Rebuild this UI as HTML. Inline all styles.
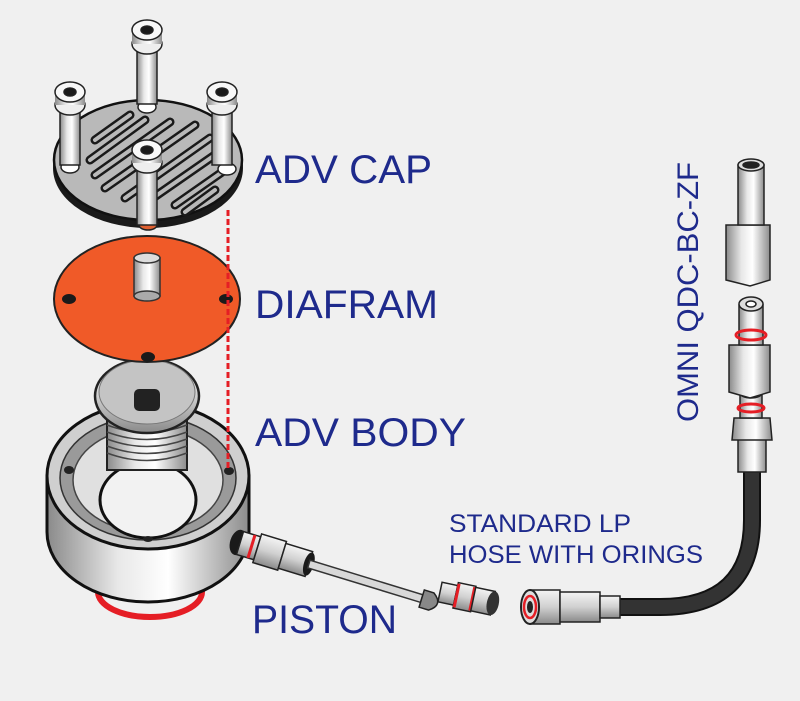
<!DOCTYPE html>
<html><head><meta charset="utf-8"><style>
html,body{margin:0;padding:0;background:#f0f0f0}
svg{display:block}
text{font-family:"Liberation Sans",sans-serif;fill:#1e2a8c}
</style></head><body>
<svg width="800" height="701" viewBox="0 0 800 701" xmlns="http://www.w3.org/2000/svg">
<defs>
<linearGradient id="metal" x1="0" x2="1" y1="0" y2="0">
<stop offset="0" stop-color="#8a8a8a"/><stop offset="0.35" stop-color="#e8e8e8"/><stop offset="0.6" stop-color="#ffffff"/><stop offset="1" stop-color="#8c8c8c"/>
</linearGradient>
<linearGradient id="metalV" x1="0" x2="0" y1="0" y2="1">
<stop offset="0" stop-color="#f4f4f4"/><stop offset="0.5" stop-color="#d0d0d0"/><stop offset="1" stop-color="#8a8a8a"/>
</linearGradient>
</defs>
<rect width="800" height="701" fill="#f0f0f0"/>

<ellipse cx="150" cy="592" rx="52" ry="25" fill="none" stroke="#e51e25" stroke-width="6"/>

<path d="M47 476 L47 532 A101 70 0 0 0 249 532 L249 476 Z" fill="url(#metal)" stroke="#111" stroke-width="3"/>
<ellipse cx="148" cy="476" rx="101" ry="73" fill="#cfcfcf" stroke="#111" stroke-width="3"/>
<ellipse cx="148" cy="478" rx="88" ry="62" fill="#9a9a9a" stroke="#333" stroke-width="1.5"/>
<ellipse cx="148" cy="480" rx="75" ry="52" fill="#e0e0e0" stroke="#444" stroke-width="1.5"/>
<ellipse cx="148" cy="500" rx="48" ry="38" fill="#f2f2f2" stroke="#111" stroke-width="3"/>
<ellipse cx="69" cy="470" rx="5" ry="4" fill="#222"/>
<ellipse cx="229" cy="471" rx="5" ry="4" fill="#222"/>
<ellipse cx="148" cy="539" rx="5" ry="3" fill="#222"/>

<rect x="107" y="400" width="80" height="70" fill="url(#metal)" stroke="#222" stroke-width="2"/>
<g stroke="#444" stroke-width="1.5" fill="none">
<path d="M107 425 Q147 440 187 425"/><path d="M107 432 Q147 447 187 432"/><path d="M107 439 Q147 454 187 439"/><path d="M107 446 Q147 461 187 446"/><path d="M107 453 Q147 468 187 453"/>
</g>
<ellipse cx="147" cy="396" rx="52" ry="37" fill="url(#metalV)" stroke="#222" stroke-width="2.5"/>
<ellipse cx="147" cy="392" rx="48" ry="32" fill="#c4c4c4" stroke="#777" stroke-width="1"/>
<rect x="134" y="389" width="26" height="22" rx="5" fill="#222"/>

<ellipse cx="147" cy="299" rx="93" ry="63" fill="#f05a28" stroke="#222" stroke-width="2"/>
<ellipse cx="69" cy="299" rx="7" ry="5" fill="#1a1a1a"/>
<ellipse cx="226" cy="299" rx="7" ry="5" fill="#1a1a1a"/>
<ellipse cx="148" cy="357" rx="7" ry="5" fill="#1a1a1a"/>
<rect x="134" y="258" width="26" height="38" fill="url(#metal)" stroke="#333" stroke-width="1.5"/>
<ellipse cx="147" cy="296" rx="13" ry="5" fill="#aaa" stroke="#333" stroke-width="1.5"/>
<ellipse cx="147" cy="258" rx="13" ry="5" fill="#ddd" stroke="#333" stroke-width="1.5"/>

<line x1="228" y1="210" x2="228" y2="470" stroke="#e51e25" stroke-width="3" stroke-dasharray="6 3"/>

<ellipse cx="148" cy="168" rx="95" ry="60" fill="#1a1a1a"/>
<ellipse cx="148" cy="160" rx="94" ry="60" fill="#b9b9b9" stroke="#111" stroke-width="2.5"/>
<g stroke="#1a1a1a" stroke-width="9" stroke-linecap="round">
<line x1="95" y1="140" x2="130" y2="115"/><line x1="90" y1="160" x2="145" y2="120"/><line x1="95" y1="175" x2="170" y2="122"/>
<line x1="105" y1="188" x2="195" y2="125"/><line x1="125" y1="198" x2="210" y2="138"/><line x1="150" y1="200" x2="222" y2="150"/>
<line x1="175" y1="205" x2="225" y2="170"/><line x1="185" y1="212" x2="215" y2="190"/>
</g>
<g stroke="#b9b9b9" stroke-width="4" stroke-linecap="round">
<line x1="95" y1="140" x2="130" y2="115"/><line x1="90" y1="160" x2="145" y2="120"/><line x1="95" y1="175" x2="170" y2="122"/>
<line x1="105" y1="188" x2="195" y2="125"/><line x1="125" y1="198" x2="210" y2="138"/><line x1="150" y1="200" x2="222" y2="150"/>
<line x1="175" y1="205" x2="225" y2="170"/><line x1="185" y1="212" x2="215" y2="190"/>
</g>
<ellipse cx="147" cy="107" rx="9" ry="6" fill="#fff" stroke="#222" stroke-width="1.5"/>
<ellipse cx="70" cy="167" rx="9" ry="6" fill="#fff" stroke="#222" stroke-width="1.5"/>
<ellipse cx="227" cy="169" rx="9" ry="6" fill="#fff" stroke="#222" stroke-width="1.5"/>
<ellipse cx="148" cy="225" rx="9" ry="5" fill="#e06030" stroke="#222" stroke-width="1.5"/>
<g stroke="#222" stroke-width="1.5">
<rect x="137" y="44" width="20" height="60" fill="url(#metal)"/>
<ellipse cx="147" cy="44" rx="15" ry="10" fill="#eee"/><rect x="132" y="30" width="30" height="14" fill="url(#metal)" stroke="none"/><ellipse cx="147" cy="30" rx="15" ry="10" fill="#f8f8f8"/><ellipse cx="147" cy="30" rx="6" ry="4" fill="#1a1a1a"/>
<rect x="60" y="105" width="20" height="60" fill="url(#metal)"/>
<ellipse cx="70" cy="105" rx="15" ry="10" fill="#eee"/><rect x="55" y="92" width="30" height="13" fill="url(#metal)" stroke="none"/><ellipse cx="70" cy="92" rx="15" ry="10" fill="#f8f8f8"/><ellipse cx="70" cy="92" rx="6" ry="4" fill="#1a1a1a"/>
<rect x="212" y="105" width="20" height="60" fill="url(#metal)"/>
<ellipse cx="222" cy="105" rx="15" ry="10" fill="#eee"/><rect x="207" y="92" width="30" height="13" fill="url(#metal)" stroke="none"/><ellipse cx="222" cy="92" rx="15" ry="10" fill="#f8f8f8"/><ellipse cx="222" cy="92" rx="6" ry="4" fill="#1a1a1a"/>
<rect x="137" y="163" width="20" height="62" fill="url(#metal)"/>
<ellipse cx="147" cy="163" rx="15" ry="10" fill="#eee"/><rect x="132" y="150" width="30" height="13" fill="url(#metal)" stroke="none"/><ellipse cx="147" cy="150" rx="15" ry="10" fill="#f8f8f8"/><ellipse cx="147" cy="150" rx="6" ry="4" fill="#1a1a1a"/>
</g>

<g transform="translate(240,543) rotate(17)">
<ellipse cx="-2" cy="0" rx="8" ry="13" fill="#1a1a1a"/>
<rect x="0" y="-12" width="18" height="24" fill="url(#metalV)" stroke="#222" stroke-width="1.5"/>
<line x1="12" y1="-12" x2="12" y2="12" stroke="#e51e25" stroke-width="3"/>
<rect x="18" y="-15" width="26" height="30" fill="url(#metalV)" stroke="#222" stroke-width="1.5"/>
<rect x="44" y="-13" width="28" height="26" fill="url(#metalV)" stroke="#222" stroke-width="1.5"/>
<ellipse cx="72" cy="0" rx="5" ry="12" fill="#1a1a1a"/>
<rect x="72" y="-4" width="118" height="8" fill="#d8d8d8" stroke="#333" stroke-width="1.5"/>
<path d="M190 -9 L200 -9 Q213 0 200 9 L190 9 Z" fill="#888" stroke="#222" stroke-width="1.5"/>
</g>
<g transform="translate(440,592) rotate(12)">
<rect x="0" y="-10" width="16" height="20" fill="url(#metalV)" stroke="#222" stroke-width="1.5"/>
<rect x="16" y="-13" width="18" height="26" fill="url(#metalV)" stroke="#222" stroke-width="1.5"/>
<line x1="17" y1="-12" x2="17" y2="12" stroke="#e51e25" stroke-width="3"/>
<line x1="33" y1="-12" x2="33" y2="12" stroke="#e51e25" stroke-width="3"/>
<rect x="34" y="-12" width="20" height="24" fill="url(#metalV)" stroke="#222" stroke-width="1.5"/>
<ellipse cx="54" cy="0" rx="6" ry="12" fill="#333"/>
</g>

<path d="M600 607 L660 607 Q752 607 752 520 L752 470" fill="none" stroke="#111" stroke-width="18"/>
<path d="M600 607 L660 607 Q752 607 752 520 L752 470" fill="none" stroke="#333" stroke-width="14"/>
<rect x="530" y="590" width="30" height="34" fill="url(#metalV)" stroke="#222" stroke-width="1.5"/>
<rect x="560" y="592" width="40" height="30" fill="url(#metalV)" stroke="#222" stroke-width="1.5"/>
<rect x="600" y="596" width="20" height="22" fill="url(#metalV)" stroke="#222" stroke-width="1.5"/>
<ellipse cx="530" cy="607" rx="9" ry="17" fill="#ddd" stroke="#222" stroke-width="2"/>
<ellipse cx="530" cy="607" rx="6" ry="11" fill="none" stroke="#e51e25" stroke-width="2.5"/>
<ellipse cx="530" cy="607" rx="3" ry="6" fill="#222"/>

<g stroke="#222" stroke-width="1.5">
<rect x="738" y="432" width="28" height="40" fill="url(#metal)"/>
<path d="M734 418 L770 418 L772 440 L732 440 Z" fill="url(#metal)"/>
<rect x="740" y="393" width="22" height="25" fill="url(#metal)"/>
<ellipse cx="751" cy="393" rx="11" ry="5" fill="#ddd"/><ellipse cx="751" cy="393" rx="5" ry="3" fill="#222"/>
<ellipse cx="751" cy="408" rx="13" ry="4" fill="none" stroke="#e51e25" stroke-width="3"/>
<path d="M729 345 L770 345 L770 392 L750 398 L729 392 Z" fill="url(#metal)"/>
<rect x="739" y="305" width="24" height="40" fill="url(#metal)"/>
<ellipse cx="751" cy="304" rx="12" ry="7" fill="#ddd"/><ellipse cx="751" cy="304" rx="5" ry="3" fill="#fff"/>
<ellipse cx="751" cy="335" rx="15" ry="5" fill="none" stroke="#e51e25" stroke-width="3"/>
<path d="M726 225 L770 225 L770 280 L750 286 L726 280 Z" fill="url(#metal)"/>
<rect x="738" y="165" width="26" height="60" fill="url(#metal)"/>
<ellipse cx="751" cy="165" rx="13" ry="6" fill="#ddd"/><ellipse cx="751" cy="165" rx="8" ry="3" fill="#222"/>
</g>

<text x="255" y="183" font-size="40" textLength="177" lengthAdjust="spacingAndGlyphs">ADV CAP</text>
<text x="255" y="318" font-size="40" textLength="183" lengthAdjust="spacingAndGlyphs">DIAFRAM</text>
<text x="255" y="446" font-size="40" textLength="211" lengthAdjust="spacingAndGlyphs">ADV BODY</text>
<text x="252" y="633" font-size="40" textLength="145" lengthAdjust="spacingAndGlyphs">PISTON</text>
<text x="449" y="532" font-size="25" textLength="182" lengthAdjust="spacingAndGlyphs">STANDARD LP</text>
<text x="449" y="563" font-size="25" textLength="254" lengthAdjust="spacingAndGlyphs">HOSE WITH ORINGS</text>
<text transform="translate(698,422) rotate(-90)" font-size="30" textLength="260" lengthAdjust="spacingAndGlyphs">OMNI QDC-BC-ZF</text>
</svg>
</body></html>
